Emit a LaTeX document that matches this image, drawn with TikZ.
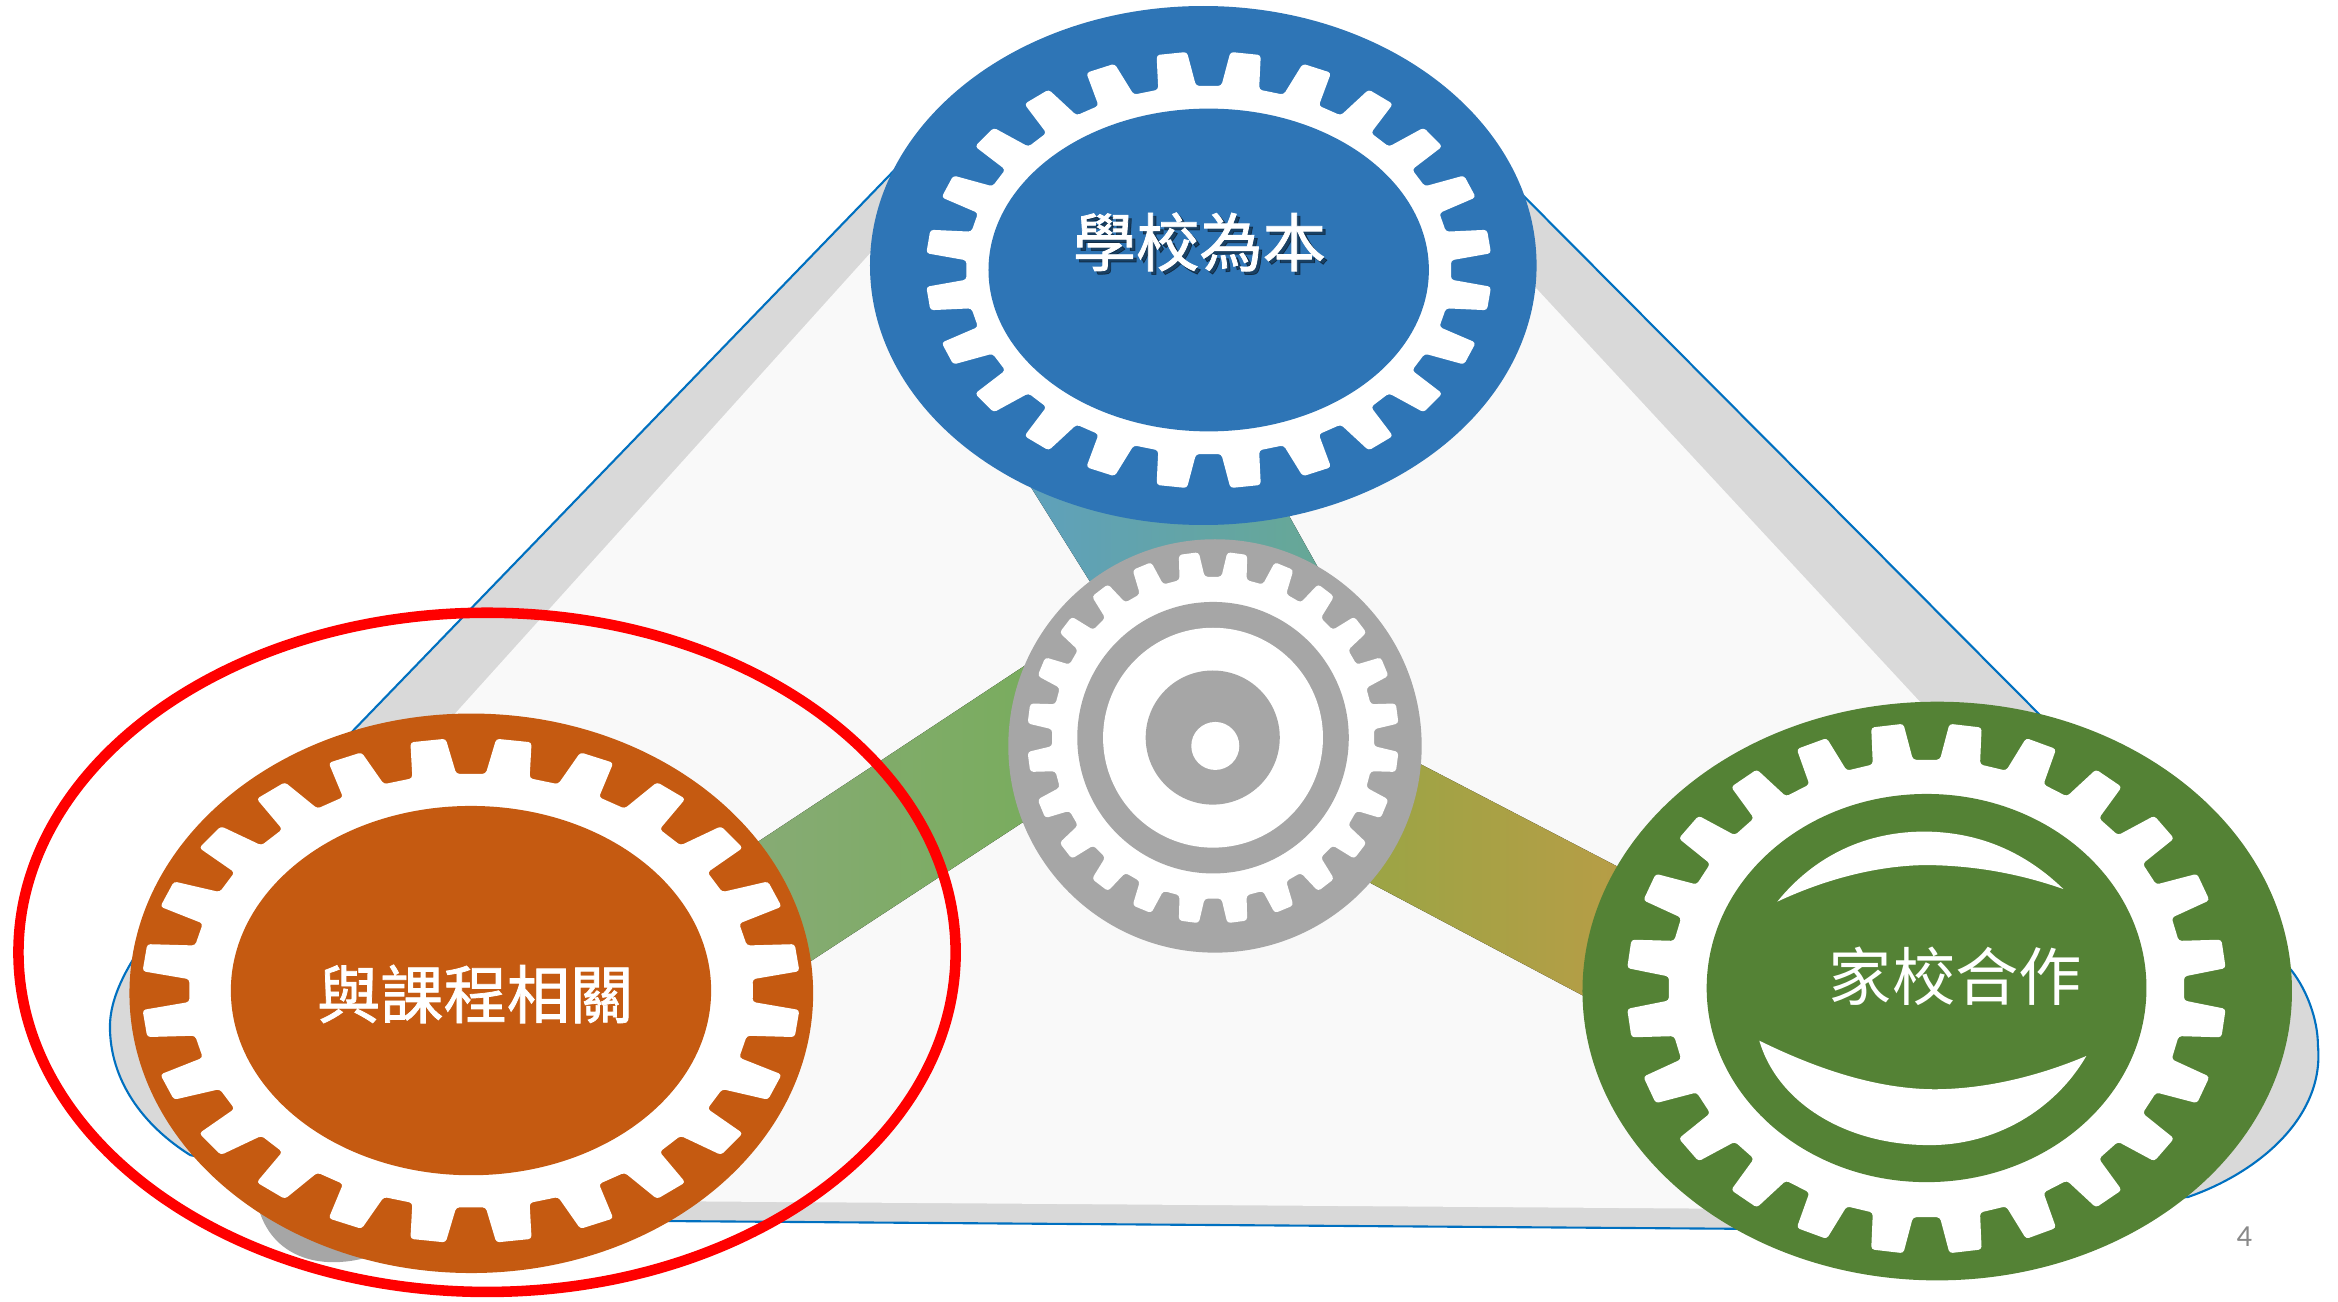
\documentclass[tikz,border=0pt]{standalone}
\usepackage{fontspec}
\newfontfamily\cjk{Noto Sans CJK TC}
\newfontfamily\cjkbold{Noto Sans CJK TC}[FakeBold=1.2]
\newfontfamily\pagefont{Carlito}
\definecolor{schoolblue}{HTML}{2E75B6}
\definecolor{courseorange}{HTML}{C55A11}
\definecolor{homegreen}{HTML}{548235}
\definecolor{hubgray}{HTML}{A6A6A6}
\definecolor{bandgray}{HTML}{D9D9D9}
\definecolor{facegray}{HTML}{F9F9F9}
\definecolor{edgeblue}{HTML}{0070C0}
\definecolor{pagegray}{HTML}{898989}
% white ring of 24 teeth: centre, tip radii, root radii
\newcommand{\gearteeth}[6]{%
  \fill[white, rounded corners=0.6pt] ({#1+#5},{#2})
    \foreach \ang in {7.5,22.5,...,352.5}{
      -- ({#1+#5*cos(\ang-4.5)},{#2+#6*sin(\ang-4.5)})
      -- ({#1+#3*cos(\ang-3.1)},{#2+#4*sin(\ang-3.1)})
      -- ({#1+#3*cos(\ang+3.1)},{#2+#4*sin(\ang+3.1)})
      -- ({#1+#5*cos(\ang+4.5)},{#2+#6*sin(\ang+4.5)})
    } -- cycle;}
\tikzset{
  gearlabel/.style={text=white, inner sep=0pt, font=\cjk\fontsize{12}{14}\selectfont},
  boldlabel/.style={gearlabel, font=\cjkbold\fontsize{12}{14}\selectfont},
  edgeline/.style={draw=edgeblue, line width=0.4pt},
}
\begin{document}
\begin{tikzpicture}[x=0.1mm, y=-0.1mm]
\useasboundingbox (0,0) rectangle (1558.7,868);
% side of the triangle slab
\fill[bandgray, edgeline] (620,88.9) -- (236,486.5)
  .. controls (180.4,544) and (73.3,624.4) .. (73.3,684.4)
  .. controls (73.3,720) and (95,750) .. (126.7,770)
  -- (300,813) -- (1200,819.5) -- (1458.7,798)
  .. controls (1505,782) and (1550,745) .. (1545.3,696.9)
  .. controls (1545.3,680) and (1538,660) .. (1527.6,646.9)
  -- (1360,476.7) -- (974.2,88.9) -- cycle;
\fill[hubgray] (170,790) .. controls (172,835) and (210,852) .. (255,835) -- (240,790) -- cycle;
% top face of the triangle
\fill[facegray] (606.1,140) -- (227.4,560) -- (400,800.5) -- (1200,806.2)
  -- (1365.5,560) -- (975.7,140) -- cycle;
% spokes to the hub
\fill[left color={rgb,255:red,94;green,160;blue,190}, right color={rgb,255:red,104;green,169;blue,142}]
  (671.8,300) -- (834.8,300) -- (918.8,450) -- (765.6,450) -- cycle;
\fill[left color={rgb,255:red,139;green,170;blue,124}, right color={rgb,255:red,116;green,173;blue,85}]
  (440,604.3) -- (760,393.1) -- (760,497) -- (440,706.6) -- cycle;
\fill[left color={rgb,255:red,150;green,166;blue,69}, right color={rgb,255:red,194;green,154;blue,70}]
  (880,474.6) -- (1150,615) -- (1150,713.9) -- (880,570.8) -- cycle;
% hub
\fill[hubgray] (810,497.3) circle [radius=137.8];
\gearteeth{808.7}{491.8}{124}{124}{107.4}{107.4}
\fill[hubgray] (808.7,491.8) circle [radius=90.5];
\fill[white] (808.7,491.8) circle [radius=73.3];
\fill[hubgray] (808.5,491.7) circle [radius=44.7];
\fill[white] (810.2,497.3) circle [radius=16];
% school gear
\fill[schoolblue] (802.2,177) ellipse [x radius=222.2, y radius=173];
\gearteeth{805.8}{180}{188.8}{145.8}{161.7}{122.9}
\fill[schoolblue] (805.8,180) ellipse [x radius=146.8, y radius=107.6];
% course gear
\fill[courseorange] (314.2,662.2) ellipse [x radius=227.9, y radius=186.5];
\gearteeth{314}{660.4}{219.6}{168.4}{188}{144.7}
\fill[courseorange] (314,660.4) ellipse [x radius=160.1, y radius=123.1];
% home gear
\fill[homegreen] (1291.5,660.7) ellipse [x radius=236.5, y radius=192.9];
\gearteeth{1284.3}{659}{200.1}{177}{171.9}{152.7}
\fill[homegreen] (1284.4,658.7) ellipse [x radius=146.6, y radius=129.4];
\fill[white] (1184.9,601.1) .. controls (1210,570) and (1245,554) .. (1284.4,554.4)
  .. controls (1320,555) and (1350,568) .. (1375.6,592.7)
  .. controls (1345,582) and (1315,577) .. (1284.4,576.7)
  .. controls (1250,577) and (1215,587) .. (1184.9,601.1) -- cycle;
\fill[white] (1172.9,693.8) .. controls (1210,712) and (1250,726) .. (1289.8,726.2)
  .. controls (1325,726) and (1360,717) .. (1390.9,704)
  .. controls (1370,740) and (1330,764) .. (1285,763.4)
  .. controls (1230,763) and (1185,735) .. (1172.9,693.8) -- cycle;
% highlight round the course gear
\draw[red, line width=2pt] (324.7,634.9) ellipse [x radius=312.4, y radius=226.4];
% labels
\node[boldlabel, text=black, opacity=0.45] at (801.8,163.5) {學校為本};
\node[boldlabel] (school) at (799.6,161.3) {學校為本};
\node[boldlabel] (course) at (316.8,662.7) {與課程相關};
\node[gearlabel] (home) at (1303.6,651) {家校合作};
\node[text=pagegray, inner sep=0pt, font=\pagefont\fontsize{5.8}{7}\selectfont] (pagenum) at (1496.2,824.4) {4};
\end{tikzpicture}
\end{document}
